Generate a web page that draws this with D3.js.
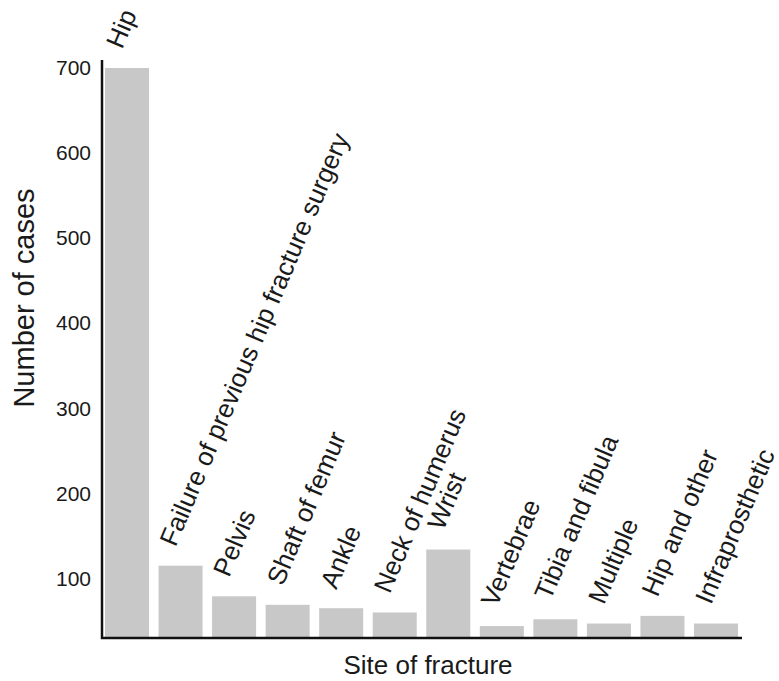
<!DOCTYPE html>
<html>
<head>
<meta charset="utf-8">
<script src="https://cdn.jsdelivr.net/npm/d3@7"></script>
<style>
  html, body { margin: 0; padding: 0; background: #fff; }
  svg { display: block; }
  text { font-family: "Liberation Sans", Arial, Helvetica, sans-serif; fill: #1a1a1a; }
</style>
</head>
<body>
<svg id="chart" width="779" height="681"></svg>
<script>
const categories = ["Hip", "Failure of previous hip fracture surgery", "Pelvis", "Shaft of femur", "Ankle",
  "Neck of humerus", "Wrist", "Vertebrae", "Tibia and fibula", "Multiple", "Hip and other", "Infraprosthetic"];
const cases = [700, 115, 79, 69, 65, 60, 134, 44, 52, 47, 56, 47];
const yTicks = [100, 200, 300, 400, 500, 600, 700];
const yDomain = [30, 700];
const xTitle = "Site of fracture";
const yTitle = "Number of cases";

const svg = d3.select("#chart");
const axisX = 102, baseY = 638, topY = 68, axisTop = 60, axisRight = 742;

const x = d3.scaleBand().domain(categories).range([105, 738]).paddingInner(0.178).paddingOuter(0);
const y = d3.scaleLinear().domain(yDomain).range([baseY, topY]);

// bars
svg.append("g").selectAll("rect").data(categories).join("rect")
  .attr("x", d => x(d))
  .attr("width", x.bandwidth())
  .attr("y", (d, i) => y(cases[i]))
  .attr("height", (d, i) => baseY - y(cases[i]))
  .attr("fill", "#c8c8c8");

// y axis (labels only)
const yAxis = svg.append("g").attr("transform", `translate(${axisX - 1},0)`)
  .call(d3.axisLeft(y).tickValues(yTicks).tickSize(0).tickPadding(10).tickFormat(d3.format("d")));
yAxis.select(".domain").remove();
yAxis.selectAll("text").style("font-size", "21px").style("font-family", "'Liberation Sans', Arial, sans-serif").attr("fill", "#1a1a1a");

// axis lines
svg.append("path")
  .attr("d", `M${axisX},${axisTop}V${baseY}H${axisRight}`)
  .attr("fill", "none").attr("stroke", "#111").attr("stroke-width", 2.5);

// rotated category labels
svg.append("g").selectAll("text").data(categories).join("text")
  .attr("transform", (d, i) => `translate(${x(d) + x.bandwidth() / 2 - 5},${y(cases[i]) - 18}) rotate(-67)`)
  .attr("text-anchor", "start")
  .style("font-size", "26px")
  .text(d => d);

// axis titles
svg.append("text").attr("x", 428).attr("y", 674).attr("text-anchor", "middle")
  .style("font-size", "26px").text(xTitle);
svg.append("text").attr("transform", `translate(34,298) rotate(-90)`).attr("text-anchor", "middle")
  .style("font-size", "29px").text(yTitle);
</script>
</body>
</html>
